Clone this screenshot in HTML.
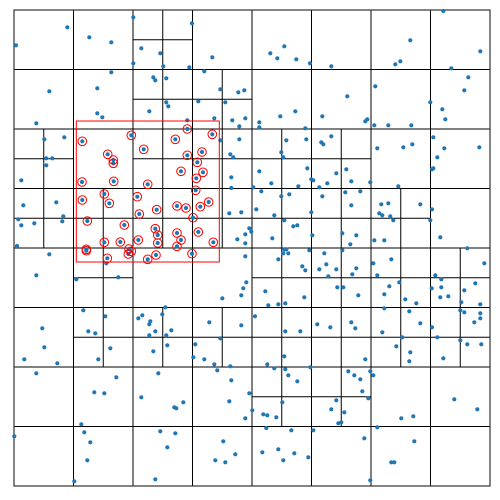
<!DOCTYPE html>
<html><head><meta charset="utf-8"><style>
html,body{margin:0;padding:0;background:#fff;width:500px;height:500px;overflow:hidden}
svg{display:block}
</style></head><body>
<svg id="chart" width="500" height="500" viewBox="0 0 500 500" xmlns="http://www.w3.org/2000/svg">
<g id="grid"></g>
<g id="pts"></g>
<g id="query"></g>
</svg>
<script>
const xs = [67.3,133.3,192,16,89.3,111.3,141.3,160.3,133.3,163.3,189.3,212.3,111.3,204.3,153.3,155.3,166.3,97.3,49.3,220.3,238.3,244.3,166.3,168.3,198.3,225.3,149.3,97.3,102.3,214.3,232.3,245.3,36.3,187.3,239.3,187.3,220.3,239.3,64.3,44.3,131.3,82.3,175.3,212.3,143.7,202,187.3,107.7,113.3,113.3,46.3,52.3,230.3,233.3,197.3,46.3,21.3,82,113.7,147.7,181,203,196.3,231.3,231.3,253.3,195.7,104.3,82.3,137.3,109.3,23.3,56.3,208.7,200.3,177,186,156.7,139.3,63.3,62.3,193,229.3,241.3,18.3,21.3,34.3,87.3,124.3,155.3,157.7,177,198.3,249.3,251.3,245.3,237.3,245.3,104.3,120.3,138.3,157.7,181,213.3,177,17,86.3,129,
86.3,49.3,107.3,106.3,128.3,131.3,147.7,156,192,245.3,36.3,76.3,118.3,246.3,243.3,241.3,222.3,165.3,83.3,105.3,138.3,142.3,150.3,149.3,162.3,209.3,241.3,255,42.3,88.3,95.3,155.3,171.3,166.3,149.3,220.3,195.3,167.3,44.3,110.3,153.3,193.3,204.3,214.3,230.3,24.3,57.3,98.3,217.3,36.3,158.3,116.3,231.3,94.3,104.3,141.3,249.3,183.3,229.3,174.3,176.3,252.3,245.3,81.3,84.3,90.3,14.3,160.3,175.3,167.3,223.3,235.3,215.3,225.3,87.3,74.3,155.3,
443.3,284.3,270.3,277.3,296.3,310,331.3,410.3,395.3,400.3,480.3,451.3,468.3,464.3,375.3,347.3,430.3,442.3,445.3,295.3,280.3,322.3,259.3,259.3,305.3,365.3,367.3,374.3,388.3,411.3,286.3,306.3,281.3,283.3,321.3,323.3,331.3,377.3,403.3,412.3,433.3,444.3,437.3,479.3,432,433.3,259.3,271.3,307.3,298.3,311.3,313.3,327.3,319.3,336.3,346.3,351.3,370.3,398.3,261.3,281.3,289.3,322.3,345.3,360.3,351.3,256.3,274.3,311.3,284.3,293.3,297.3,381.3,388.3,379.3,382.3,390.3,393.3,420.3,432,430.3,272.3,312.3,342.3,356.3,350.3,374.3,384.3,440.3,467.3,285.3,
284.3,286.3,283.3,288.3,309.3,278.3,302.3,305.3,324.3,342.3,319.3,326.3,336.3,328.3,356.3,352.3,373.3,377.3,391.3,484.3,435.3,441.3,265.3,268.3,278.3,285.3,304.3,337.3,343.3,358.3,389.3,384.3,399.3,405.3,416.3,384.3,431.7,441.3,440.3,448.3,464.3,475.3,461.3,480.3,460.3,464.3,480.3,480.3,474.3,317.3,330.3,351.3,355.3,285.3,300.3,382.3,409.3,420.3,432,437.3,402.3,396.3,410.3,409.3,460.3,467.3,481.3,443.3,284.3,267.3,274.3,285.3,288.3,297.3,310.3,365.3,348.3,354.3,360.3,370.3,373.3,362.3,368.3,336.3,331.3,344.3,338.3,341.3,282.3,263.3,267.3,276.3,266.3,291.3,313.3,278.3,262.3,294.3,283.3,308.3,364.3,370.3,377.3,414.3,391.3,394.3,401.3,413.3,454.3,477.3];
const ys = [27.3,17.3,23.3,45.3,37.3,42.3,48.3,53.3,63.3,66.3,67.3,57.3,72.3,71.3,77.3,80.3,78.3,88.3,91.3,89.3,92.3,90.3,102.3,106.3,101.3,102.3,111.3,113.3,117.3,118.3,120.3,118.3,123.3,120.3,126.3,129,140.3,139.3,137.3,139.3,135.3,141.3,139.3,134.3,149.3,152,155.3,154.3,160,163.3,158.3,158.3,154.3,157.3,162.3,165.3,180.3,182,181.3,184.3,171.3,172.3,178.3,177.3,188,187.3,190.3,194,200,196.7,203.3,205.3,202.3,202,206.7,206,208,209.7,214,216.3,221.3,217.7,213.3,212.3,219.3,225.3,223.3,221,225,228.7,235,233,232,228.3,231.7,234.3,239.3,243.3,242.3,242,240,243,240,242.3,246.3,246,249.3,249,
250.7,254.3,258.3,263.3,254,251.3,259.3,255,253.7,256.3,275.3,279.3,277.3,282.3,288.3,295.3,298.3,307.3,310.3,316.3,318.3,315.3,321.3,324.3,314.3,322.3,325.3,316.3,328.3,331.3,333.3,331.3,330.3,335.3,335.3,338.3,344.3,345.3,347.3,348.3,351.3,357.3,359.3,364.3,366.3,359.3,363.3,359.3,370.3,373.3,373.3,377.3,380.3,392.3,393.3,397.3,393.3,402.3,401.3,407.3,408.3,410.3,418.3,424.3,432.3,442.3,436.3,431.3,433.3,447.3,441.3,454.3,460.3,462.3,460.3,481.3,479.3,
11,46.3,53.3,58.3,59.3,63.3,66.3,40.3,64.3,61.3,51.3,68.3,77.3,90.3,86.3,96.3,102.3,109.3,119.3,111.3,116.3,116.3,122.3,127.3,128.3,121.3,119.3,125.3,125.3,125.3,140.3,139.3,152.3,157.3,142.3,144.3,136.3,148.3,147.3,144.3,137.3,148.3,157.3,147.3,169.3,168.3,171.3,183.3,168.3,186.3,179.3,180.3,183.3,187.3,173.3,169.3,181.3,182.3,186.3,191.3,196.3,194.3,196.3,192.3,191.3,205.3,209.3,215.3,212.3,220.3,226.3,225.3,204.3,203.3,213.3,215.3,216.3,220.3,204.3,209.3,220.3,238.3,235.3,233.3,235.3,244.3,240.3,240.3,237.3,248.3,249.3,
249.3,249.3,253.3,253.3,250.3,259.3,266.3,270.3,253.3,250.3,269.3,264.3,269.3,276.3,268.3,274.3,263.3,275.3,259.3,263.3,275.3,279.3,291.3,305.3,304.3,303.3,297.3,287.3,287.3,295.3,286.3,294.3,282.3,299.3,303.3,308.3,288.3,287.3,297.3,296.3,290.3,283.3,302.3,304.3,310.3,312.3,313.3,318.3,322.3,324.3,327.3,322.3,328.3,331.3,331.3,332.3,311.3,323.3,327.3,337.3,337.3,346.3,352.3,361.3,340.3,344.3,344.3,358.3,356.3,364.3,368.3,369.3,375.3,381.3,367.3,359.3,371.3,375.3,379.3,371.3,375.3,391.3,398.3,400.3,409.3,412.3,423.3,422.3,402.3,414.3,415.3,417.3,428,430.3,430.3,449.3,452.3,453.3,460.3,457.3,438.3,480.3,427.3,441.3,462.3,462.3,418.3,416.3,399.3,409.3];
const domainMin = [14, 10];
const domainMax = [490, 486];
const queryRange = [76.3, 121, 219.3, 262];
// level-3 cells (col,row) in an 8x8 grid that are subdivided once more
const splitCols = [2,2,3,0,2,3,4,5,0,1,2,3,4,5,6,1,4,5,6,7,1,2,3,4,5,6,7,4,5];
const splitRows = [0,1,1,2,2,2,2,2,3,3,3,3,3,3,3,4,4,4,4,4,5,5,5,5,5,5,5,6,6];

const X0=14,X1=490,Y0=10,Y1=486;
const sx = v => X0 + (v-domainMin[0])/(domainMax[0]-domainMin[0])*(X1-X0);
const sy = v => Y0 + (v-domainMin[1])/(domainMax[1]-domainMin[1])*(Y1-Y0);
const NS="http://www.w3.org/2000/svg";
function mk(tag, attrs, parent){const e=document.createElementNS(NS,tag);for(const k in attrs)e.setAttribute(k,attrs[k]);parent.appendChild(e);return e;}
const grid=document.getElementById('grid');
const W=X1-X0,H=Y1-Y0;
for(let i=1;i<8;i++){
  const l1=mk('line',{x1:X0+W*i/8,y1:Y0,x2:X0+W*i/8,y2:Y1,stroke:'#000','stroke-width':1},grid);
  
  
  const l2=mk('line',{x1:X0,y1:Y0+H*i/8,x2:X1,y2:Y0+H*i/8,stroke:'#000','stroke-width':1},grid);
  
  
}
for(let k=0;k<splitCols.length;k++){
  const cx=X0+W*(splitCols[k]+0.5)/8, cy=Y0+H*(splitRows[k]+0.5)/8, h=W/16;
  const a=mk('line',{x1:cx,y1:cy-h,x2:cx,y2:cy+h,stroke:'#000','stroke-width':1},grid);
  
  
  const b=mk('line',{x1:cx-h,y1:cy,x2:cx+h,y2:cy,stroke:'#000','stroke-width':1},grid);
  
  
}
const border=mk('rect',{x:X0,y:Y0,width:W,height:H,fill:'none',stroke:'#333','stroke-width':1.2},grid);


const pts=document.getElementById('pts');
const q=document.getElementById('query');
for(let i=0;i<Math.min(xs.length,ys.length);i++){
  const c=mk('circle',{cx:sx(xs[i]),cy:sy(ys[i]),r:2.1,fill:'#1f77b4'},pts);
  
  
  if(xs[i]>=queryRange[0]&&xs[i]<=queryRange[2]&&ys[i]>=queryRange[1]&&ys[i]<=queryRange[3]){
    const r=mk('circle',{cx:sx(xs[i]),cy:sy(ys[i]),r:4.3,fill:'none',stroke:'#ff0000','stroke-width':1},q);
    
    
  }
}
const qr=mk('rect',{x:sx(queryRange[0]),y:sy(queryRange[1]),width:sx(queryRange[2])-sx(queryRange[0]),height:sy(queryRange[3])-sy(queryRange[1]),fill:'none',stroke:'#ff0000','stroke-width':1},q);


</script>
</body></html>
